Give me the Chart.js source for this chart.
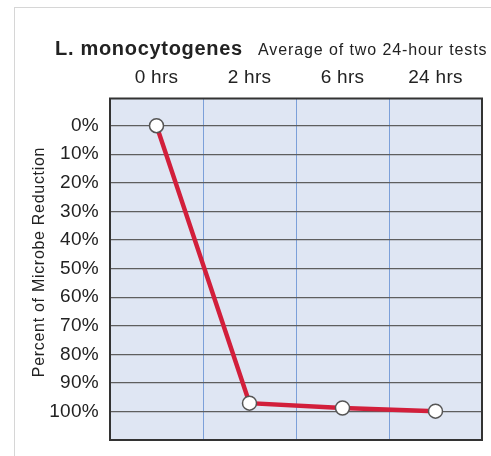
<!DOCTYPE html>
<html>
<head>
<meta charset="utf-8">
<script src="https://cdn.jsdelivr.net/npm/chart.js@4.4.0/dist/chart.umd.min.js"></script>
<style>
  body { margin: 0; background: #fff; }
  #wrap { position: relative; width: 491px; height: 456px; overflow: hidden; }
  #frame { position: absolute; left: 14px; top: 7px; width: 600px; height: 600px; border: 1px solid #d6d6d6; }
  #myChart { position: absolute; left: 0; top: 0; }
</style>
</head>
<body>
<div id="wrap">
  <div id="frame"></div>
  <canvas id="myChart" width="491" height="456"></canvas>
</div>
<script>
const timeLabels = ['0 hrs', '2 hrs', '6 hrs', '24 hrs'];
const reductionValues = [0, 97.1, 98.8, 99.9];
const yTickValues = [0, 10, 20, 30, 40, 50, 60, 70, 80, 90, 100];

const titleText = 'L. monocytogenes';
const subtitleText = 'Average of two 24-hour tests';
const yTitleText = 'Percent of Microbe Reduction';

const fontName = '"Liberation Sans", Arial, sans-serif';

// fundo azul, borda e textos extras
const decorPlugin = {
    id: 'decor',
    beforeDraw(chart) {
        const c = chart.ctx;
        const a = chart.chartArea;
        c.letterSpacing = '0.3px';
        c.save();
        c.fillStyle = '#dfe6f3';
        c.fillRect(a.left, a.top, a.right - a.left, a.bottom - a.top);
        c.restore();
    },
    afterDraw(chart) {
        const c = chart.ctx;
        const a = chart.chartArea;
        c.save();
        c.strokeStyle = '#333';
        c.lineWidth = 2;
        c.strokeRect(a.left, a.top, a.right - a.left, a.bottom - a.top);

        c.fillStyle = '#222';
        c.textBaseline = 'alphabetic';
        c.textAlign = 'left';
        c.letterSpacing = '0.7px';
        c.font = 'bold 20px ' + fontName;
        c.fillText(titleText, 55, 55);
        c.letterSpacing = '0.9px';
        c.font = '16px ' + fontName;
        c.fillText(subtitleText, 258, 55);

        c.letterSpacing = '0.7px';
        c.font = '16px ' + fontName;
        c.translate(44, 262);
        c.rotate(-Math.PI / 2);
        c.textAlign = 'center';
        c.fillText(yTitleText, 0, 0);
        c.restore();
    }
};

const ctx = document.getElementById('myChart').getContext('2d');

new Chart(ctx, {
    type: 'line',
    data: {
        labels: timeLabels,
        datasets: [{
            data: reductionValues,
            borderColor: '#d21f3b',
            borderWidth: 4.5,
            pointRadius: 7,
            pointHoverRadius: 7,
            pointBackgroundColor: '#fff',
            pointBorderColor: '#555',
            pointBorderWidth: 1.5,
            tension: 0,
            clip: false
        }]
    },
    options: {
        responsive: false,
        animation: false,
        devicePixelRatio: 1,
        layout: { padding: { left: 0, top: 0, right: 9, bottom: 16 } },
        plugins: {
            legend: { display: false },
            tooltip: { enabled: false }
        },
        scales: {
            x: {
                position: 'top',
                offset: true,
                afterFit(scale) {
                    scale.height = 98.5;
                    scale.paddingLeft = 0;
                    scale.paddingRight = 0;
                },
                grid: {
                    offset: true,
                    color: '#7ca0d9',
                    lineWidth: 1,
                    drawTicks: false,
                    tickLength: 0
                },
                border: { display: false },
                ticks: {
                    padding: 9,
                    color: '#222',
                    font: { family: fontName, size: 19 }
                }
            },
            y: {
                reverse: true,
                min: -9.5,
                max: 110,
                afterFit(scale) {
                    scale.width = 110;
                    scale.paddingTop = 0;
                    scale.paddingBottom = 0;
                },
                afterBuildTicks(scale) {
                    scale.ticks = yTickValues.map(v => ({ value: v }));
                },
                grid: {
                    color: '#5e5e5e',
                    lineWidth: 1.2,
                    drawTicks: false,
                    tickLength: 0
                },
                border: { display: false },
                ticks: {
                    padding: 11,
                    color: '#222',
                    font: { family: fontName, size: 19 },
                    callback: v => v + '%'
                }
            }
        }
    },
    plugins: [decorPlugin]
});
</script>
</body>
</html>
